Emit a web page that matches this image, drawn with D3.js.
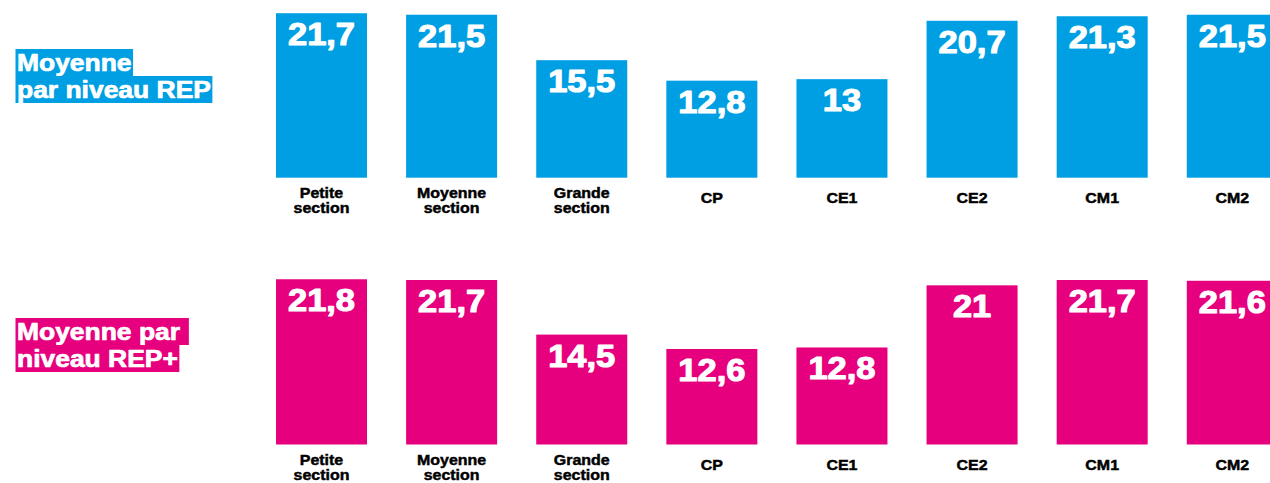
<!DOCTYPE html>
<html>
<head>
<meta charset="utf-8">
<script src="https://cdn.jsdelivr.net/npm/d3@7"></script>
<style>
  body { margin: 0; background: #fff; }
  svg { display: block; font-family: "Liberation Sans", Arial, sans-serif; font-weight: bold; }
  .title { white-space: pre; }
</style>
</head>
<body>
<div id="chart"></div>
<script>
// niveaux scolaires (2 lignes pour les sections de maternelle)
let levels = ["Petite section", "Moyenne section", "Grande section", "CP", "CE1", "CE2", "CM1", "CM2"];
let levelLines = [["Petite", "section"], ["Moyenne", "section"], ["Grande", "section"], ["CP"], ["CE1"], ["CE2"], ["CM1"], ["CM2"]];
let repValues = [21.7, 21.5, 15.5, 12.8, 13, 20.7, 21.3, 21.5];
let repPlusValues = [21.8, 21.7, 14.5, 12.6, 12.8, 21, 21.7, 21.6];
let repTitle = ["Moyenne", "par niveau REP"];
let repPlusTitle = ["Moyenne par ", "niveau REP+"];

function config(){
    let width = 1270, height = 483;
    let svg = d3.select("#chart").append("svg")
        .attr("width", width)
        .attr("height", height);
    return { width, height, svg };
}

function scales(){
    // step ~130px, bar width 91px
    let xScale = d3.scaleBand()
        .domain(levels)
        .range([276, 1277.8])
        .paddingInner(0.3005)
        .paddingOuter(0);
    let yScale = d3.scaleLinear()
        .domain([0, 22])
        .range([0, 22 * 7.58]);
    return { xScale, yScale };
}

let fmt = v => String(v).replace(".", ",");

function drawPanel(svg, s, values, title, color, baseline, titleY){
    let { xScale, yScale } = s;
    let g = svg.append("g");

    let bars = g.selectAll("g.bar")
        .data(levels.map((l, i) => ({ level: l, value: values[i], lines: levelLines[i] })))
        .enter().append("g").attr("class", "bar");

    bars.append("rect")
        .attr("x", d => xScale(d.level))
        .attr("y", d => baseline - yScale(d.value))
        .attr("width", xScale.bandwidth())
        .attr("height", d => yScale(d.value))
        .attr("fill", color);

    // valeur dans la barre (trait blanc pour épaissir)
    bars.append("text")
        .attr("transform", d => "translate(" + [xScale(d.level) + xScale.bandwidth() / 2, baseline - yScale(d.value) + 32] + ") scale(1.13,1)")
        .attr("text-anchor", "middle")
        .attr("fill", "#fff")
        .attr("stroke", "#fff")
        .attr("stroke-width", 1.1)
        .attr("stroke-linejoin", "round")
        .style("font-size", "30.5px")
        .text(d => fmt(d.value));

    // libellé du niveau
    bars.each(function(d){
        let cx = xScale(d.level) + xScale.bandwidth() / 2;
        let y0 = d.lines.length == 2 ? baseline + 20.5 : baseline + 25.5;
        d.lines.forEach((line, j) => {
            d3.select(this).append("text")
                .attr("transform", "translate(" + [cx, y0 + j * 15] + ") scale(1.1,1)")
                .attr("text-anchor", "middle")
                .attr("fill", "#000")
                .attr("stroke", "#000")
                .attr("stroke-width", 0.45)
                .style("font-size", "14.5px")
                .text(line);
        });
    });

    // titre surligné
    title.forEach((line, j) => {
        let y = titleY + j * 27;
        let bg = g.append("rect").attr("fill", color);
        let t = g.append("text")
            .attr("class", "title")
            .attr("transform", "translate(" + [17, y] + ") scale(1.15,1)")
            .attr("fill", "#fff")
            .attr("stroke", "#fff")
            .attr("stroke-width", 0.7)
            .attr("stroke-linejoin", "round")
            .style("font-size", "23px")
            .text(line);
        let w = t.node().getComputedTextLength() * 1.15;
        bg.attr("x", 15.5)
            .attr("y", y - 22)
            .attr("width", w + 3)
            .attr("height", 27);
    });
}

let c = config();
let s = scales();
drawPanel(c.svg, s, repValues, repTitle, "#009fe3", 177.7, 71);
drawPanel(c.svg, s, repPlusValues, repPlusTitle, "#e6007e", 444.5, 340);
</script>
</body>
</html>
